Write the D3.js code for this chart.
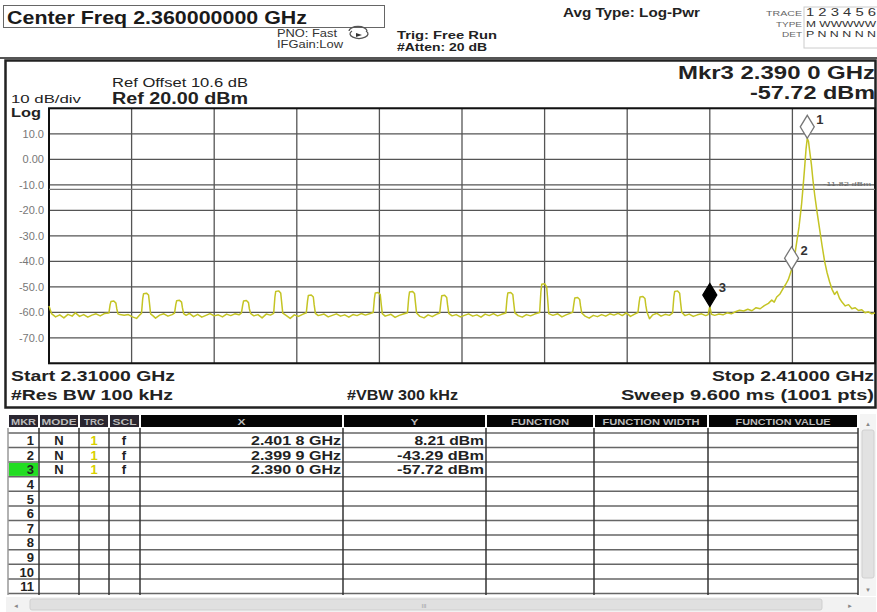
<!DOCTYPE html>
<html><head><meta charset="utf-8">
<script src="https://cdn.jsdelivr.net/npm/d3@7"></script>
<style>body{margin:0;background:#fff}svg{display:block;font-family:"Liberation Sans",Arial,sans-serif}</style>
</head><body>
<svg id="c" width="877" height="612"></svg>
<script>
// ---- data (MHz, dBm) ----
const trace = [
[2310.0,-57.5],[2310.3,-60.5],[2310.8,-61.8],[2311.3,-61.0],[2311.8,-62.2],[2312.3,-60.8],[2312.8,-61.5],[2313.2,-60.2],[2313.7,-61.6],[2314.2,-60.9],[2314.7,-61.9],[2315.2,-61.1],[2315.7,-60.6],[2316.2,-61.4],[2316.7,-60.5],
[2317.25,-60.3],[2317.4,-57.0],[2317.5,-55.8],[2317.85,-55.6],[2318.1,-56.4],[2318.2,-58.5],[2318.35,-60.6],
[2318.6,-60.9],[2319.1,-61.2],[2319.6,-60.9],[2320.1,-61.8],[2320.6,-62.4],[2321.0,-61.0],
[2321.2,-60.4],[2321.35,-54.5],[2321.45,-52.7],[2321.8,-52.5],[2322.05,-53.2],[2322.15,-56.0],[2322.3,-60.6],
[2322.6,-61.4],[2322.9,-62.3],[2323.4,-61.1],[2323.9,-60.6],[2324.4,-61.5],[2324.9,-60.9],
[2325.2,-60.3],[2325.35,-57.0],[2325.45,-55.5],[2325.8,-55.3],[2326.05,-56.0],[2326.15,-58.2],[2326.3,-60.5],
[2326.6,-61.2],[2327.0,-60.4],[2327.5,-61.7],[2328.0,-60.8],[2328.5,-61.9],[2329.0,-61.2],[2329.5,-60.5],[2330.0,-61.4],[2330.5,-61.0],[2331.0,-61.8],[2331.5,-60.7],[2332.0,-61.3],[2332.5,-60.6],[2333.0,-61.0],
[2333.3,-60.2],[2333.45,-57.2],[2333.55,-55.6],[2333.9,-55.4],[2334.15,-56.2],[2334.25,-58.5],[2334.4,-60.4],
[2334.8,-61.4],[2335.3,-60.9],[2335.8,-62.2],[2336.3,-60.7],[2336.8,-61.1],
[2337.2,-60.4],[2337.35,-54.0],[2337.45,-51.8],[2337.8,-51.6],[2338.05,-52.4],[2338.15,-55.5],[2338.3,-60.3],
[2338.7,-61.2],[2339.2,-62.4],[2339.7,-61.0],[2340.2,-61.6],[2340.7,-60.8],
[2341.15,-60.2],[2341.3,-55.5],[2341.4,-53.4],[2341.75,-53.2],[2342.0,-54.0],[2342.1,-57.0],[2342.25,-60.4],
[2342.6,-61.3],[2343.3,-60.7],[2343.8,-61.8],[2344.3,-61.2],[2344.8,-60.6],[2345.3,-61.5],[2345.8,-61.0],[2346.3,-61.9],[2346.8,-60.9],[2347.3,-61.3],[2347.8,-60.5],[2348.3,-61.1],[2348.8,-60.6],
[2349.25,-60.1],[2349.4,-54.5],[2349.5,-52.4],[2349.85,-52.2],[2350.1,-53.0],[2350.2,-56.2],[2350.35,-60.5],
[2350.7,-61.5],[2351.4,-60.8],[2351.9,-62.0],[2352.4,-61.2],[2352.9,-60.7],
[2353.4,-60.2],[2353.55,-54.2],[2353.65,-52.0],[2354.0,-51.8],[2354.25,-52.6],[2354.35,-55.8],[2354.5,-60.3],
[2354.9,-61.6],[2355.4,-62.2],[2355.9,-61.0],[2356.4,-61.7],[2356.9,-60.8],
[2357.3,-60.3],[2357.45,-55.8],[2357.55,-53.5],[2357.9,-53.3],[2358.15,-54.2],[2358.25,-57.0],[2358.4,-60.4],
[2358.8,-61.4],[2359.3,-60.9],[2359.8,-61.8],[2360.3,-61.2],[2360.8,-60.6],[2361.3,-61.5],[2361.8,-61.0],[2362.3,-61.9],[2362.8,-60.7],[2363.3,-61.3],[2363.8,-60.5],[2364.3,-61.4],[2364.8,-60.8],
[2365.3,-60.3],[2365.45,-54.6],[2365.55,-52.4],[2365.9,-52.2],[2366.15,-53.0],[2366.25,-56.0],[2366.4,-60.2],
[2366.8,-61.3],[2367.3,-61.9],[2367.8,-60.9],[2368.3,-61.4],[2368.8,-60.7],
[2369.4,-60.1],[2369.55,-52.0],[2369.65,-49.0],[2370.0,-48.8],[2370.25,-50.0],[2370.35,-54.0],[2370.5,-60.5],
[2371.0,-61.2],[2371.6,-60.6],[2372.1,-61.8],[2372.6,-61.0],[2373.0,-60.5],
[2373.4,-60.0],[2373.55,-56.5],[2373.65,-54.4],[2374.0,-54.2],[2374.25,-55.0],[2374.35,-57.5],[2374.5,-60.3],
[2374.9,-61.5],[2375.4,-62.3],[2375.9,-61.2],[2376.4,-61.7],[2376.9,-60.9],[2377.4,-61.5],[2377.9,-60.6],[2378.4,-61.1],[2378.9,-60.4],[2379.4,-61.3],[2379.9,-60.2],[2380.4,-61.6],[2380.9,-60.7],
[2381.3,-60.1],[2381.45,-56.0],[2381.55,-54.0],[2381.9,-53.8],[2382.15,-54.6],[2382.25,-57.2],[2382.4,-60.0],
[2382.7,-62.5],[2383.1,-61.0],[2383.6,-60.4],[2384.1,-61.5],[2384.6,-60.8],[2385.1,-61.2],
[2385.5,-60.2],[2385.65,-54.0],[2385.75,-51.8],[2386.1,-51.6],[2386.35,-52.5],[2386.45,-55.8],[2386.6,-60.0],
[2387.0,-61.3],[2387.5,-60.7],[2388.0,-61.6],[2388.5,-61.0],[2389.0,-60.6],[2389.5,-61.3],
[2389.8,-60.9],[2390.0,-57.72],[2390.2,-60.8],[2390.6,-61.2],[2391.1,-60.7],[2391.6,-61.0],[2392.1,-60.2],[2392.6,-60.6],[2393.1,-59.8],[2393.6,-59.2],[2394.1,-59.5],[2394.6,-58.8],[2395.1,-59.4],[2395.6,-58.2],[2396.1,-58.6],[2396.6,-57.4],[2397.1,-56.5],[2397.5,-55.2],[2397.8,-56.0],[2398.1,-54.0],[2398.5,-52.8],[2398.9,-50.5],[2399.2,-49.0],[2399.5,-47.2],
[2399.9,-43.29],[2400.2,-39.5],[2400.5,-33.0],[2400.8,-26.5],[2401.1,-18.0],[2401.3,-10.5],[2401.5,-2.5],[2401.65,4.0],[2401.8,8.21],[2401.95,7.0],[2402.1,3.0],[2402.3,-2.0],[2402.5,-8.5],[2402.7,-14.0],[2403.0,-21.0],[2403.3,-27.5],[2403.6,-34.0],[2403.9,-40.0],[2404.2,-44.5],[2404.5,-48.0],[2404.8,-51.0],[2405.1,-53.0],[2405.4,-51.8],[2405.7,-54.5],[2406.0,-56.0],[2406.4,-57.5],[2406.8,-57.0],[2407.2,-58.6],[2407.6,-58.2],[2408.0,-59.3],[2408.4,-59.0],[2408.8,-60.2],[2409.2,-59.8],[2409.6,-60.6],[2410.0,-60.3]
];
const markerIds = [1, 2, 3];
const markerFreqs = [2401.8, 2399.9, 2390.0];
const markerLevels = [8.21, -43.29, -57.72];
const markerXText = ["2.401 8 GHz", "2.399 9 GHz", "2.390 0 GHz"];
const markerYText = ["8.21 dBm", "-43.29 dBm", "-57.72 dBm"];
const displayLine = -11.82;
const yTickValues = [10, 0, -10, -20, -30, -40, -50, -60, -70];
const yTickLabels = ["10.0", "0.00", "-10.0", "-20.0", "-30.0", "-40.0", "-50.0", "-60.0", "-70.0"];
const tableHeaders = ["MKR", "MODE", "TRC", "SCL", "X", "Y", "FUNCTION", "FUNCTION WIDTH", "FUNCTION VALUE"];
const rowNumbers = ["1","2","3","4","5","6","7","8","9","10","11"];

// ---- drawing ----
const svg = d3.select("#c");
const x = d3.scaleLinear().domain([2310, 2410]).range([49, 875]);
const y = d3.scaleLinear().domain([-80, 20]).range([363.3, 108.3]);
const txt = (xx, yy, s, o = {}) => {
  const t = svg.append("text").attr("x", xx).attr("y", yy).text(s)
    .attr("font-size", o.size || 12).attr("font-weight", o.bold ? "bold" : "normal")
    .attr("fill", o.fill || "#222").attr("text-anchor", o.anchor || "start");
  if (o.len) t.attr("textLength", o.len).attr("lengthAdjust", "spacingAndGlyphs");
  return t;
};

// header
svg.append("rect").attr("x", 3.5).attr("y", 5.5).attr("width", 381).attr("height", 22).attr("fill", "none").attr("stroke", "#666");
txt(7, 24, "Center Freq 2.360000000 GHz", {size: 18, bold: true, fill: "#1a1a1a", len: 300});
txt(277, 37, "PNO: Fast", {size: 10, fill: "#333", len: 60});
txt(277, 48, "IFGain:Low", {size: 10, fill: "#333", len: 66});
svg.append("path").attr("d", "M352,31 a9,4.5 0 1,0 14,0").attr("fill", "none").attr("stroke", "#555").attr("stroke-width", 1.3);
svg.append("path").attr("d", "M349,31 a9,4.5 0 0,1 18,0").attr("fill", "none").attr("stroke", "#555").attr("stroke-width", 1.3);
svg.append("path").attr("d", "M356,33 l6,2 l-6,2 z").attr("fill", "#333");
txt(397, 39, "Trig: Free Run", {size: 11.5, bold: true, len: 100});
txt(397, 51, "#Atten: 20 dB", {size: 11, bold: true, len: 90});
txt(563, 17, "Avg Type: Log-Pwr", {size: 12, bold: true, len: 137});
txt(802, 16, "TRACE", {size: 7.5, fill: "#666", anchor: "end", len: 36});
txt(802, 27, "TYPE", {size: 7.5, fill: "#666", anchor: "end", len: 26});
txt(802, 37, "DET", {size: 7.5, fill: "#666", anchor: "end", len: 20});
svg.append("rect").attr("x", 804).attr("y", 7).attr("width", 74).attr("height", 41).attr("fill", "none").attr("stroke", "#ccc");
txt(806, 16, "1 2 3 4 5 6", {size: 10, fill: "#333", len: 70});
txt(806, 27, "M WWWWW", {size: 9, fill: "#333", len: 70});
txt(806, 37, "P  N N N N N", {size: 9, fill: "#333", len: 70});
svg.append("line").attr("x1", 0).attr("x2", 877).attr("y1", 58).attr("y2", 58).attr("stroke", "#555").attr("stroke-width", 2);

// graph frame
svg.append("rect").attr("x", 5.5).attr("y", 60.5).attr("width", 870).attr("height", 347).attr("fill", "#fff").attr("stroke", "#222").attr("stroke-width", 2.5);
txt(112, 87, "Ref Offset 10.6 dB", {size: 12.5, len: 136});
txt(112, 104, "Ref 20.00 dBm", {size: 16, bold: true, len: 136});
txt(11, 103, "10 dB/div", {size: 11.5, len: 70});
txt(11, 117, "Log", {size: 12, bold: true, len: 30});
txt(875, 79, "Mkr3 2.390 0 GHz", {size: 18, bold: true, anchor: "end", len: 197});
txt(875, 99, "-57.72 dBm", {size: 18, bold: true, anchor: "end", len: 125});

// grid
const g = svg.append("g");
g.selectAll(".vg").data(x.ticks(10)).join("line").attr("x1", d => x(d)).attr("x2", d => x(d))
  .attr("y1", y(20)).attr("y2", y(-80)).attr("stroke", "#555").attr("stroke-width", 1.3);
g.selectAll(".hg").data(y.ticks(10)).join("line").attr("x1", x(2310)).attr("x2", x(2410))
  .attr("y1", d => y(d)).attr("y2", d => y(d)).attr("stroke", "#555").attr("stroke-width", 1.3);
g.append("rect").attr("x", x(2310)).attr("y", y(20)).attr("width", x(2410) - x(2310)).attr("height", y(-80) - y(20))
  .attr("fill", "none").attr("stroke", "#111").attr("stroke-width", 2);
// display line
g.append("line").attr("x1", x(2310)).attr("x2", x(2410)).attr("y1", y(displayLine)).attr("y2", y(displayLine)).attr("stroke", "#777").attr("stroke-width", 1.2);
txt(x(2410) - 4, y(displayLine) - 3, "-11.82 dBm", {size: 6, fill: "#666", anchor: "end", len: 48});
// y labels
yTickValues.forEach((v, i) => txt(44, y(v) + 4, yTickLabels[i], {size: 11, fill: "#777", anchor: "end"}));

// trace
svg.append("path").datum(trace).attr("d", d3.line().x(d => x(d[0])).y(d => y(d[1])))
  .attr("fill", "none").attr("stroke", "#c4c424").attr("stroke-width", 1.5).attr("stroke-linejoin", "round");

// markers
markerIds.forEach((id, i) => {
  const cx = x(markerFreqs[i]), by = y(markerLevels[i]), cy = by - 11.5;
  svg.append("path").attr("d", `M${cx},${by} L${cx - 7},${cy} L${cx},${cy - 11.5} L${cx + 7},${cy} Z`)
    .attr("fill", id === 3 ? "#000" : "#fff").attr("stroke", id === 3 ? "#000" : "#777").attr("stroke-width", 1.3);
  txt(cx + 9, cy - 3, String(id), {size: 13, bold: true, fill: "#333"});
});

// bottom annotation
txt(11, 381, "Start 2.31000 GHz", {size: 15, bold: true, len: 164});
txt(11, 400, "#Res BW 100 kHz", {size: 15, bold: true, len: 162});
txt(347, 400, "#VBW 300 kHz", {size: 15, bold: true, len: 111});
txt(874, 381, "Stop 2.41000 GHz", {size: 15, bold: true, anchor: "end", len: 162});
txt(874, 400, "Sweep  9.600 ms (1001 pts)", {size: 15, bold: true, anchor: "end", len: 253});

// table
const edges = [8, 39, 79, 109, 140, 343, 486, 594, 708, 858];
const hdrLen = [25, 35, 20, 24, 8, 8, 58, 97, 95];
tableHeaders.forEach((h, i) => {
  svg.append("rect").attr("x", edges[i] + 1).attr("y", 415).attr("width", edges[i + 1] - edges[i] - 2).attr("height", 12)
    .attr("fill", i < 4 ? "#2a2630" : "#050505");
  txt((edges[i] + edges[i + 1]) / 2, 424.5, h, {size: 8.5, bold: true, fill: "#bbb", anchor: "middle", len: hdrLen[i]});
});
const rowC = i => 440.2 + 14.6 * i;
rowNumbers.forEach((r, i) => {
  svg.append("line").attr("x1", edges[0]).attr("x2", edges[9]).attr("y1", rowC(i) - 7.3).attr("y2", rowC(i) - 7.3).attr("stroke", "#666").attr("stroke-width", 1.5);
});
svg.append("line").attr("x1", edges[0]).attr("x2", edges[9]).attr("y1", rowC(11) - 7.3).attr("y2", rowC(11) - 7.3).attr("stroke", "#666").attr("stroke-width", 1.5);
// green MKR 3 cell
svg.append("rect").attr("x", edges[0] + 1).attr("y", rowC(2) - 6.5).attr("width", edges[1] - edges[0] - 2).attr("height", 13).attr("fill", "#22dd22");
edges.forEach((e, i) => svg.append("line").attr("x1", e).attr("x2", e).attr("y1", 428).attr("y2", 595)
  .attr("stroke", i === 0 ? "#999" : "#333").attr("stroke-width", 1.5));
rowNumbers.forEach((r, i) => txt(34, rowC(i) + 5, r, {size: 13, bold: true, anchor: "end"}));
markerIds.forEach((id, i) => {
  const yy = rowC(i) + 5;
  txt(59, yy, "N", {size: 13, bold: true, anchor: "middle"});
  txt(94, yy, "1", {size: 13, bold: true, fill: "#d8d000", anchor: "middle"});
  txt(124, yy, "f", {size: 13, bold: true, anchor: "middle"});
  txt(341, yy, markerXText[i], {size: 13, bold: true, anchor: "end", len: 90});
  txt(484, yy, markerYText[i], {size: 13, bold: true, anchor: "end", len: markerYText[i].length * 8.7});
});
// vertical scrollbar
svg.append("rect").attr("x", 860).attr("y", 414).attr("width", 16).attr("height", 182).attr("fill", "#f4f4f4");
svg.append("rect").attr("x", 862).attr("y", 430).attr("width", 12).attr("height", 148).attr("rx", 2).attr("fill", "#e2e2e2").attr("stroke", "#d0d0d0");
txt(868, 426, "▲", {size: 6, fill: "#888", anchor: "middle"});
txt(868, 592, "▼", {size: 6, fill: "#888", anchor: "middle"});
// horizontal scrollbar
svg.append("rect").attr("x", 6).attr("y", 597).attr("width", 870).attr("height", 15).attr("fill", "#f2f2f2");
svg.append("rect").attr("x", 30).attr("y", 599).attr("width", 792).attr("height", 11).attr("rx", 2).attr("fill", "#e0e0e0").attr("stroke", "#cfcfcf");
txt(16, 608, "◄", {size: 6, fill: "#888", anchor: "middle"});
txt(850, 608, "►", {size: 6, fill: "#888", anchor: "middle"});
txt(424, 608, "III", {size: 6, fill: "#999", anchor: "middle"});
</script>
</body></html>
